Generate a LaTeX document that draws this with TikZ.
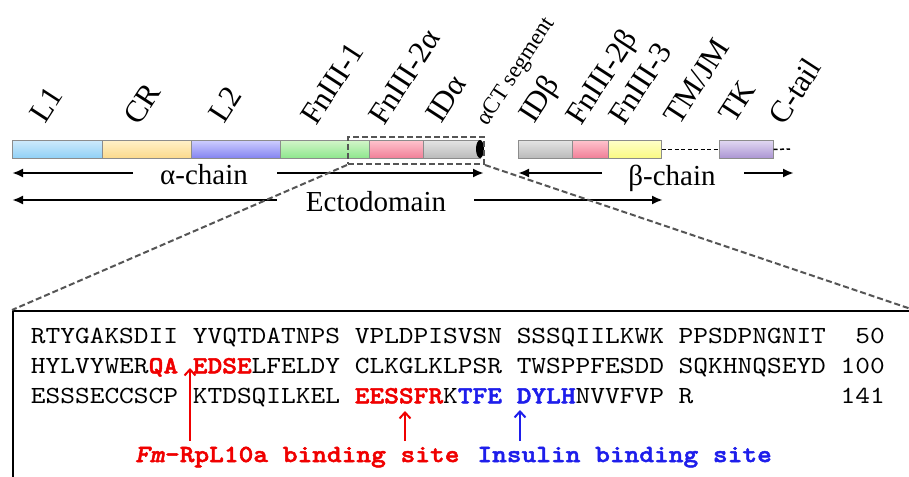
\documentclass[tikz,border=0pt]{standalone}
\usepackage{fontspec}
\setmainfont{Liberation Serif}
\newfontfamily\seqfont{lmmono10-regular}[Extension=.otf, BoldFont=lmmonolt10-bold, BoldItalicFont=lmmonolt10-boldoblique, ItalicFont=lmmono10-italic, FakeStretch=1.14, BoldFeatures={FakeBold=2}, BoldItalicFeatures={FakeBold=2}]
\usetikzlibrary{arrows.meta,shapes.geometric}
\definecolor{bordergray}{RGB}{140,140,140}
\definecolor{dgray}{RGB}{85,85,85}
\definecolor{seqred}{RGB}{240,0,0}
\definecolor{seqblue}{RGB}{30,30,235}
\definecolor{lonetop}{RGB}{205,233,251}\definecolor{lonebot}{RGB}{143,208,246}
\definecolor{crtop}{RGB}{255,240,200}\definecolor{crbot}{RGB}{251,217,138}
\definecolor{ltwotop}{RGB}{205,205,255}\definecolor{ltwobot}{RGB}{130,130,240}
\definecolor{fnonetop}{RGB}{210,245,200}\definecolor{fnonebot}{RGB}{140,230,140}
\definecolor{pinktop}{RGB}{255,195,205}\definecolor{pinkbot}{RGB}{240,125,150}
\definecolor{greytop}{RGB}{228,228,228}\definecolor{greybot}{RGB}{185,185,185}
\definecolor{yeltop}{RGB}{255,255,200}\definecolor{yelbot}{RGB}{250,250,130}
\definecolor{tktop}{RGB}{225,215,242}\definecolor{tkbot}{RGB}{170,148,210}
\begin{document}
\begin{tikzpicture}[x=1pt,y=-1pt,
  segbox/.style={draw=bordergray, line width=1pt, minimum height=18pt, inner sep=0pt, anchor=north west},
  lab/.style={rotate=57, anchor=base west, inner sep=0pt, font=\fontsize{31}{31}\selectfont},
  chainarrow/.style={line width=2.2pt, -{Latex[length=11pt,width=9pt]}},
  chaintext/.style={anchor=base, inner sep=0pt, font=\fontsize{29}{29}\selectfont},
  zoomdash/.style={draw=dgray, line width=2pt, dash pattern=on 6pt off 3pt},
  seqrow/.style={anchor=base west, inner sep=0pt, font=\seqfont\fontsize{24.6}{24.6}\selectfont},
  sitearrow/.style={line width=2pt, -{Straight Barb[length=6pt,width=11pt]}}
]
\useasboundingbox (0,0) rectangle (909,476);
\fill[white] (0,0) rectangle (909,476);

% domain bar
\node[segbox, top color=lonetop, bottom color=lonebot, minimum width=89.5pt] (l1) at (12,140) {};
\node[segbox, top color=crtop, bottom color=crbot, minimum width=89.5pt] (cr) at (101.5,140) {};
\node[segbox, top color=ltwotop, bottom color=ltwobot, minimum width=89pt] (l2) at (191,140) {};
\node[segbox, top color=fnonetop, bottom color=fnonebot, minimum width=89pt] (fn1) at (280,140) {};
\node[segbox, top color=pinktop, bottom color=pinkbot, minimum width=54pt] (fn2a) at (369,140) {};
\node[segbox, top color=greytop, bottom color=greybot, minimum width=57pt] (ida) at (423,140) {};
\node[ellipse, fill=black, minimum width=8pt, minimum height=18pt, inner sep=0pt] (cap) at (480,149) {};
\node[segbox, top color=greytop, bottom color=greybot, minimum width=53.5pt] (idb) at (518,140) {};
\node[segbox, top color=pinktop, bottom color=pinkbot, minimum width=36pt] (fn2b) at (571.5,140) {};
\node[segbox, top color=yeltop, bottom color=yelbot, minimum width=53pt] (fn3) at (607.5,140) {};
\node[segbox, top color=tktop, bottom color=tkbot, minimum width=53.5pt] (tk) at (719,140) {};
\coordinate (ctail) at (790,149);
\draw[line width=1.5pt, dash pattern=on 4pt off 2.5pt] (fn3.east) -- (tk.west);
\draw[line width=1.5pt, dash pattern=on 4pt off 2.5pt] (tk.east) -- (ctail);

% rotated labels
\node[lab] (tl1) at (45,125) {L1};
\node[lab] (tcr) at (139,127) {CR};
\node[lab] (tl2) at (224,125) {L2};
\node[lab] (tfn1) at (316,127) {FnIII-1};
\node[lab] (tfn2a) at (384,127) {FnIII-2α};
\node[lab] (tida) at (441,125) {IDα};
\node[lab, font=\fontsize{23}{23}\selectfont] (tact) at (487,127) {αCT segment};
\node[lab] (tidb) at (534,125) {IDβ};
\node[lab] (tfn2b) at (581,127) {FnIII-2β};
\node[lab] (tfn3) at (624,127) {FnIII-3};
\node[lab] (ttm) at (679,127) {TM/JM};
\node[lab] (ttk) at (734,125) {TK};
\node[lab] (tct) at (784,127) {C-tail};

% chain arrows
\node[chaintext] (achain) at (204,184) {α-chain};
\coordinate (a1s) at (133,173); \coordinate (a1e) at (12,173);
\coordinate (a2s) at (277,173); \coordinate (a2e) at (484,173);
\draw[chainarrow] (a1s) -- (a1e);
\draw[chainarrow] (a2s) -- (a2e);
\node[chaintext] (ecto) at (376,211) {Ectodomain};
\coordinate (e1s) at (277,200); \coordinate (e1e) at (12,200);
\coordinate (e2s) at (474,200); \coordinate (e2e) at (663,200);
\draw[chainarrow] (e1s) -- (e1e);
\draw[chainarrow] (e2s) -- (e2e);
\node[chaintext] (bchain) at (672,185) {β-chain};
\coordinate (b1s) at (602,173); \coordinate (b1e) at (518,173);
\coordinate (b2s) at (744,173); \coordinate (b2e) at (794,173);
\draw[chainarrow] (b1s) -- (b1e);
\draw[chainarrow] (b2s) -- (b2e);

% zoom box and inset
\node[zoomdash, minimum width=136pt, minimum height=27pt, inner sep=0pt, anchor=north west] (zbox) at (347,136) {};
\node[draw=black, line width=2pt, minimum width=900pt, minimum height=190pt, inner sep=0pt, anchor=north west] (inset) at (12,310) {};
\draw[zoomdash] (zbox.south west) -- (inset.north west);
\draw[zoomdash] (zbox.south east) -- (inset.north east);

% sequence
\newcommand{\redb}[1]{\textcolor{seqred}{\bfseries #1}}
\newcommand{\blueb}[1]{\textcolor{seqblue}{\bfseries #1}}
\node[seqrow] (row1) at (30.7,343.3) {RTYGAKSDII~YVQTDATNPS~VPLDPISVSN~SSSQIILKWK~PPSDPNGNIT~~50};
\node[seqrow] (row2) at (30.7,373.3) {HYLVYWER\redb{QA}~\redb{EDSE}LFELDY~CLKGLKLPSR~TWSPPFESDD~SQKHNQSEYD~100};
\node[seqrow] (row3) at (30.7,403.3) {ESSSECCSCP~KTDSQILKEL~\redb{EESSFR}K\blueb{TFE}~\blueb{DYLH}NVVFVP~R~~~~~~~~~~141};

\node[seqrow, text=seqred, font=\seqfont\bfseries\fontsize{24.6}{24.6}\selectfont] (fmlab) at (135,462) {\textit{Fm}-RpL10a~binding~site};
\node[seqrow, text=seqblue, font=\seqfont\bfseries\fontsize{24.6}{24.6}\selectfont] (inslab) at (477.2,462) {Insulin~binding~site};

\coordinate (r1b) at (190,441); \coordinate (r1t) at (190,368);
\coordinate (r2b) at (405,441); \coordinate (r2t) at (405,411);
\coordinate (bl1b) at (520,441); \coordinate (bl1t) at (520,410);
\draw[sitearrow, seqred] (r1b) -- (r1t);
\draw[sitearrow, seqred] (r2b) -- (r2t);
\draw[sitearrow, seqblue] (bl1b) -- (bl1t);
\end{tikzpicture}
\end{document}
